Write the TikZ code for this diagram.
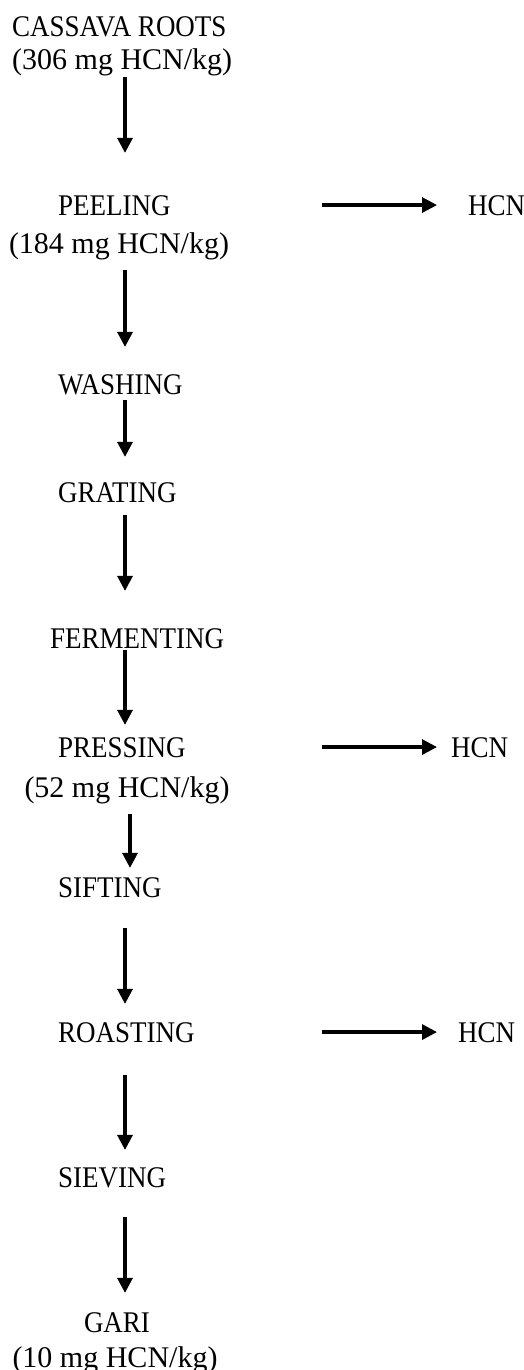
\documentclass[tikz,border=0pt]{standalone}
\usepackage{fontspec}
\setmainfont{Liberation Serif}[FakeStretch=0.9]
\newfontfamily\valfont{Liberation Serif}
\usetikzlibrary{arrows.meta}

\begin{document}
\begin{tikzpicture}[
    x=1pt, y=-1pt,
    font=\fontsize{30}{36}\selectfont,
    every node/.append style={inner sep=0pt, text height=19.9pt, text depth=0pt},
    val/.style={font=\fontsize{30}{36}\valfont},
    flow/.style={-{Triangle[length=15pt,width=15pt]}, line width=3.2pt}
]
    \useasboundingbox (0,0) rectangle (523,1370);
    \coordinate (axis) at (125,0);
    \coordinate (axisb) at (130,0);
    \coordinate (tap) at (322,0);
    \coordinate (tip) at (437,0);
    % steps
    \node[anchor=base west] (roots) at (12,37) {CASSAVA ROOTS};
    \node[anchor=base west, val] (rootsval) at (12,70) {(306 mg HCN/kg)};
    \node[anchor=base west] (peel) at (58,215) {PEELING};
    \node[anchor=base, val] (peelval) at (119,253) {(184 mg HCN/kg)};
    \foreach \n/\x/\y/\t in {wash/58/394/WASHING, grat/58/502/GRATING,
        ferm/50/648/FERMENTING, press/58/757/PRESSING, sift/58/897/SIFTING,
        roast/58/1042/ROASTING, siev/58/1187/SIEVING}
        \node[anchor=base west] (\n) at (\x,\y) {\t};
    \node[anchor=base, val] (pressval) at (127,797) {(52 mg HCN/kg)};
    \node[anchor=base] (gari) at (117,1332) {GARI};
    \node[anchor=base, val] (garival) at (115,1367) {(10 mg HCN/kg)};
    % losses
    \node[anchor=base west] (hcna) at (468,215) {HCN};
    \node[anchor=base west] (hcnb) at (451,757) {HCN};
    \node[anchor=base west] (hcnc) at (458,1042) {HCN};
    \foreach \a/\b/\s/\e/\c in {rootsval/peel/7/42/axis, peelval/wash/17/27/axis,
        wash/grat/6/25/axis, grat/ferm/13/37/axis, ferm/press/2/12/axis,
        pressval/sift/17/9/axisb, sift/roast/31/18/axis, roast/siev/33/17/axis,
        siev/gari/30/19/axis}
        \draw[flow, shorten <=\s pt, shorten >=\e pt] (\a.south -| \c) -- (\b.north -| \c);
    \foreach \a/\b in {peel/hcna, press/hcnb, roast/hcnc}
        \draw[flow] (\a.east -| tap) -- (\b.west -| tip);
\end{tikzpicture}
\end{document}
